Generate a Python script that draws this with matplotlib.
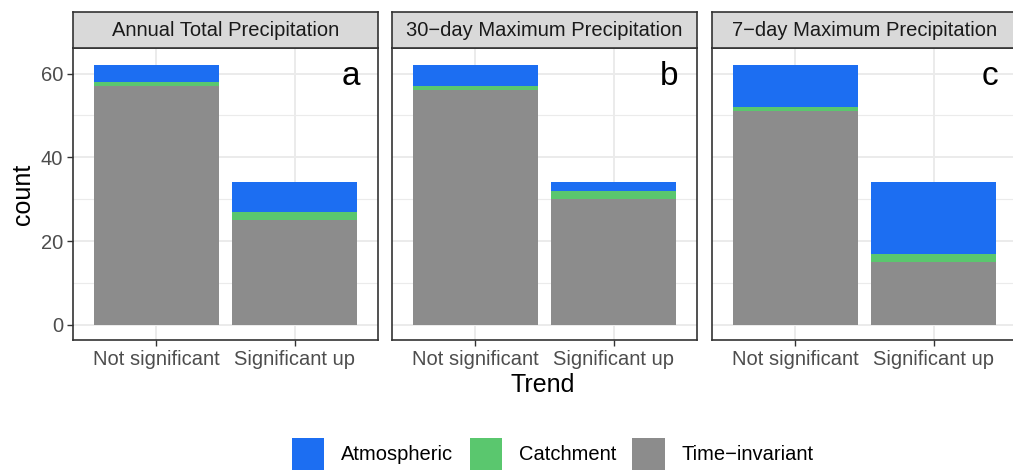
import matplotlib
matplotlib.use("Agg")
import matplotlib.pyplot as plt
from matplotlib.patches import Patch
from matplotlib.ticker import MultipleLocator

plt.rcParams['font.family'] = ['Liberation Sans', 'DejaVu Sans']

panels = ['Annual Total Precipitation', '30\u2212day Maximum Precipitation', '7\u2212day Maximum Precipitation']
letters = ['a', 'b', 'c']
trends = ['Not significant', 'Significant up']

# counts per panel: [Not significant, Significant up]
time_invariant = [[57, 25], [56, 30], [51, 15]]
catchment = [[1, 2], [1, 2], [1, 2]]
atmospheric = [[4, 7], [5, 2], [10, 17]]

colors = {'Atmospheric': '#1c6ef2', 'Catchment': '#5ac76e', 'Time\u2212invariant': '#8c8c8c'}

W, H = 1013, 470
fig = plt.figure(figsize=(W / 100, H / 100), dpi=100)

lefts = [73, 392, 712]
pw = 305
top, bottom = 48, 340
strip_top = 12

for i, left in enumerate(lefts):
    ax = fig.add_axes([left / W, 1 - bottom / H, pw / W, (bottom - top) / H])
    x = range(len(trends))
    g = time_invariant[i]
    c = catchment[i]
    a = atmospheric[i]
    gc = [gi + ci for gi, ci in zip(g, c)]
    ax.bar(x, g, width=0.9, color=colors['Time\u2212invariant'], zorder=2)
    ax.bar(x, c, bottom=g, width=0.9, color=colors['Catchment'], zorder=2)
    ax.bar(x, a, bottom=gc, width=0.9, color=colors['Atmospheric'], zorder=2)
    ax.set_xlim(-0.6, 1.6)
    ax.set_ylim(-3.6, 66.1)
    ax.set_xticks(list(x))
    ax.set_xticklabels(trends, fontsize=14.5, color='#4d4d4d')
    ax.yaxis.set_major_locator(MultipleLocator(20))
    ax.yaxis.set_minor_locator(MultipleLocator(10))
    ax.grid(True, which='major', color='#ebebeb', linewidth=1.4, zorder=0)
    ax.grid(True, which='minor', axis='y', color='#ebebeb', linewidth=0.8, zorder=0)
    ax.set_axisbelow(True)
    ax.tick_params(axis='both', which='major', length=4, color='#333333', width=1, pad=3)
    ax.tick_params(axis='y', which='minor', length=0)
    for s in ax.spines.values():
        s.set_color('#333333')
        s.set_linewidth(1.2)
    if i == 0:
        ax.set_yticklabels([str(int(t)) for t in ax.get_yticks()], fontsize=14.5, color='#4d4d4d')
        ax.set_ylabel('count', fontsize=18, labelpad=4)
    else:
        ax.tick_params(axis='y', labelleft=False, length=0)
    ax.text(0.94, 0.955, letters[i], transform=ax.transAxes, fontsize=24,
            ha='right', va='top')

    sax = fig.add_axes([left / W, 1 - top / H, pw / W, (top - strip_top) / H])
    sax.set_facecolor('#d9d9d9')
    sax.set_xticks([])
    sax.set_yticks([])
    for s in sax.spines.values():
        s.set_color('#333333')
        s.set_linewidth(1.2)
    sax.text(0.5, 0.5, panels[i], transform=sax.transAxes, fontsize=14.5,
             ha='center', va='center', color='#1a1a1a')

fig.text((73 + 1013) / 2 / W, 1 - 385 / H, 'Trend', fontsize=18, ha='center', va='center')

handles = [Patch(facecolor=v, edgecolor='none', label=k) for k, v in colors.items()]
fig.legend(handles=handles, loc='center', bbox_to_anchor=(553 / W, 1 - 454 / H), ncol=3,
           frameon=False, fontsize=14.5, handlelength=1.6, handleheight=2.0,
           handletextpad=0.85, columnspacing=0.8)

fig.savefig('out.png', dpi=100)
